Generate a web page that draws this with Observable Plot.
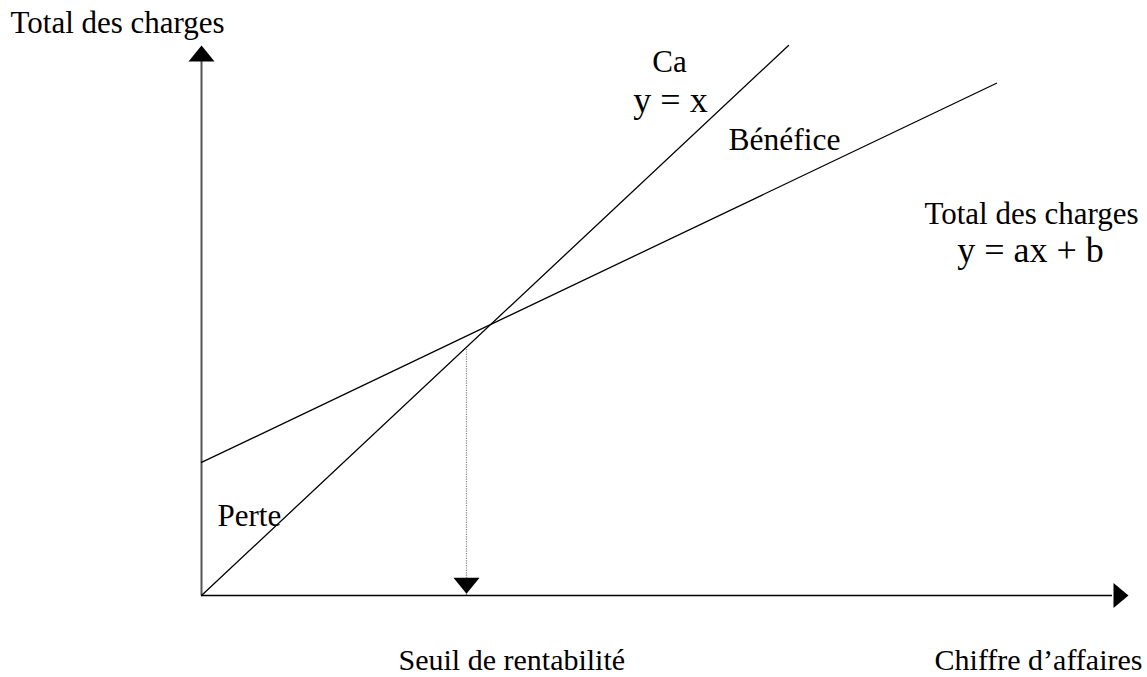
<!DOCTYPE html>
<html>
<head>
<meta charset="utf-8">
<script src="https://cdn.jsdelivr.net/npm/d3@7"></script>
<script src="https://cdn.jsdelivr.net/npm/@observablehq/plot@0.6"></script>
<style>
  html, body { margin: 0; padding: 0; background: #fff; }
  #chart svg { display: block; }
</style>
</head>
<body>
<div id="chart"></div>
<script>
// Chiffre d'affaires line: y = x
const caLine = [{x: 0, y: 0}, {x: 587, y: 587}];
// Total des charges: y = a x + b
const chargesA = 0.509;
const chargesB = 142;
const chargesX = [0, 795];
const chargesLine = chargesX.map(x => ({x, y: chargesA * x + chargesB}));
// axes extents
const yAxisTop = 570;
const yArrowTip = 587;
const xAxisEnd = 911;
const xArrowTip = 927;
// break-even marker
const seuilX = 265;
const seuilTip = 2;

// labels
const labels = [
  {text: "Total des charges", x: -191, y: 600, anchor: "start", size: 31},
  {text: "Ca", x: 468, y: 559, anchor: "middle", size: 31},
  {text: "y = x", x: 469, y: 515.5, anchor: "middle", size: 36},
  {text: "Bénéfice", x: 527, y: 475, anchor: "start", size: 31.5},
  {text: "Total des charges", x: 830, y: 397, anchor: "middle", size: 31},
  {text: "y = ax + b", x: 829, y: 355.4, anchor: "middle", size: 36},
  {text: "Perte", x: 16, y: 74.7, anchor: "start", size: 31},
  {text: "Seuil de rentabilité", x: 197, y: -80, anchor: "start", size: 30},
  {text: "Chiffre d\u2019affaires", x: 941, y: -80, anchor: "end", size: 30}
];

function arrowSymbol(dir, w, h) {
  return {
    draw(ctx) {
      const hw = w / 2;
      if (dir === "up") { ctx.moveTo(0, 0); ctx.lineTo(-hw, h); ctx.lineTo(hw, h); }
      else if (dir === "down") { ctx.moveTo(0, 0); ctx.lineTo(-hw, -h); ctx.lineTo(hw, -h); }
      else { ctx.moveTo(0, 0); ctx.lineTo(-h, -hw); ctx.lineTo(-h, hw); }
      ctx.closePath();
    }
  };
}

const font = "'Liberation Serif', 'Times New Roman', serif";

const textMarks = labels.map(l => Plot.text([l], {
  x: "x", y: "y", text: "text",
  textAnchor: l.anchor, lineAnchor: "bottom",
  fontSize: l.size, fontFamily: font, fill: "black"
}));

const chart = Plot.plot({
  width: 1147,
  height: 677,
  marginLeft: 201,
  marginRight: 0,
  marginTop: 0,
  marginBottom: 82,
  x: {domain: [0, 946], axis: null},
  y: {domain: [0, 635], axis: null},
  style: {background: "white", overflow: "visible", fontFamily: font},
  marks: [
    Plot.ruleX([seuilX], {y1: 0, y2: seuilX, stroke: "#888", strokeWidth: 1.2, strokeDasharray: "1.2,1.2"}),
    Plot.ruleX([0], {y1: 0, y2: yAxisTop, stroke: "#555", strokeWidth: 2}),
    Plot.ruleY([0], {x1: 0, x2: xAxisEnd, stroke: "black", strokeWidth: 1.5}),
    Plot.line(caLine, {x: "x", y: "y", stroke: "black", strokeWidth: 1.3}),
    Plot.line(chargesLine, {x: "x", y: "y", stroke: "black", strokeWidth: 1.3}),
    Plot.dot([{x: 0, y: yArrowTip}], {x: "x", y: "y", symbol: arrowSymbol("up", 26, 16), fill: "black", stroke: "none"}),
    Plot.dot([{x: xArrowTip, y: 0}], {x: "x", y: "y", symbol: arrowSymbol("right", 25, 15), fill: "black", stroke: "none"}),
    Plot.dot([{x: seuilX, y: seuilTip}], {x: "x", y: "y", symbol: arrowSymbol("down", 26, 16), fill: "black", stroke: "none"}),
    ...textMarks
  ]
});

document.getElementById("chart").appendChild(chart);
</script>
</body>
</html>
